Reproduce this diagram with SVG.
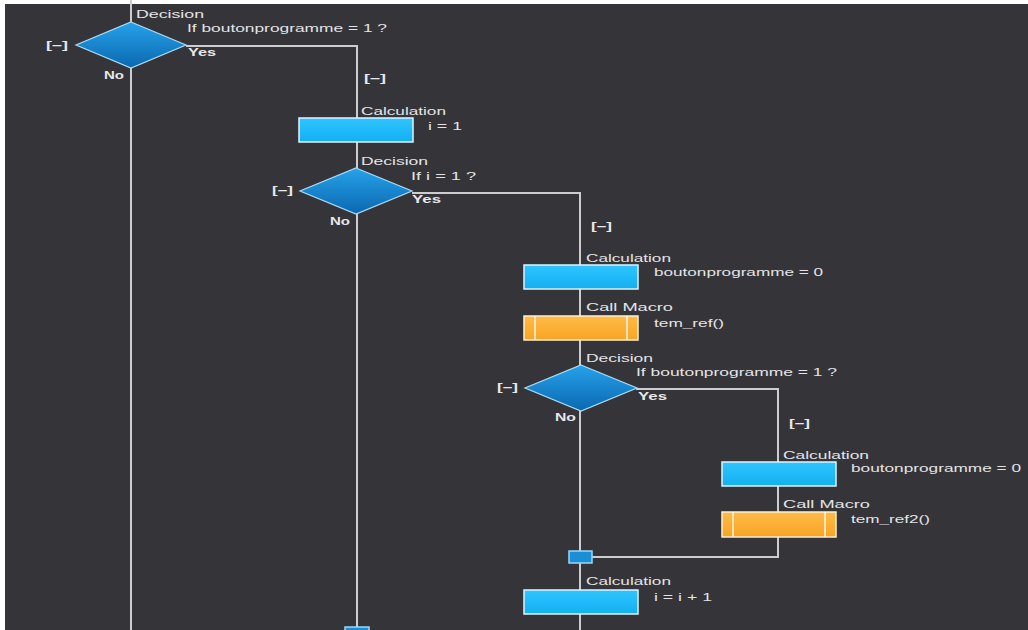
<svg xmlns="http://www.w3.org/2000/svg" width="1028" height="630" viewBox="0 0 1028 630">
<style>
.ln{stroke:#cdcdd0;stroke-width:2;fill:none}
.t{font-family:"Liberation Sans",Arial,sans-serif;font-size:11.5px;fill:#e4e4e6}
.b{font-family:"Liberation Sans",Arial,sans-serif;font-size:11.5px;font-weight:bold;fill:#e8e8ea}
.calc{fill:url(#gc);stroke:#dff3ff;stroke-width:1.5}
.mac{fill:url(#gm);stroke:#fff0d0;stroke-width:1.5}
.macl{stroke:#fff6e4;stroke-width:1.5}
.dia{fill:url(#gd);stroke:#a8dcf8;stroke-width:1.2}
.jn{fill:#1a8ed6;stroke:#9ad6f8;stroke-width:1.5}
</style>
<defs>
<linearGradient id="gc" x1="0" y1="0" x2="0" y2="1"><stop offset="0" stop-color="#2ec4ff"/><stop offset="1" stop-color="#14b0f2"/></linearGradient>
<linearGradient id="gm" x1="0" y1="0" x2="0" y2="1"><stop offset="0" stop-color="#ffbb48"/><stop offset="1" stop-color="#f8a424"/></linearGradient>
<linearGradient id="gd" x1="0" y1="0" x2="0" y2="1"><stop offset="0" stop-color="#26a2ea"/><stop offset="1" stop-color="#0a68b0"/></linearGradient>
</defs>
<rect width="1028" height="630" fill="#ffffff"/>
<rect x="5" y="4" width="1023" height="626" fill="#343439"/>

<g id="connectors">
<path class="ln" d="M131 0V22"/>
<path class="ln" d="M131 68V630"/>
<path class="ln" d="M186 46H357V118"/>
<path class="ln" d="M357 142V168"/>
<path class="ln" d="M357 214V630"/>
<path class="ln" d="M412 193H580V265"/>
<path class="ln" d="M580 289V316"/>
<path class="ln" d="M580 340V365"/>
<path class="ln" d="M580 411V551"/>
<path class="ln" d="M580 563V590"/>
<path class="ln" d="M580 614V630"/>
<path class="ln" d="M636 389H778V462"/>
<path class="ln" d="M778 486V512"/>
<path class="ln" d="M778 537V557H592"/>
</g>

<g id="decision1">
<polygon class="dia" points="131,22 186,45 131,68 76,45"/>
<text class="t" x="136" y="18" textLength="68" lengthAdjust="spacingAndGlyphs">Decision</text>
<text class="t" x="187" y="32" textLength="200" lengthAdjust="spacingAndGlyphs">If boutonprogramme = 1 ?</text>
<text class="b" x="46" y="49" textLength="22" lengthAdjust="spacingAndGlyphs">[–]</text>
<text class="b" x="188" y="56" textLength="28" lengthAdjust="spacingAndGlyphs">Yes</text>
<text class="b" x="104" y="79" textLength="20" lengthAdjust="spacingAndGlyphs">No</text>
</g>

<g id="collapse1">
<text class="b" x="364" y="82" textLength="22" lengthAdjust="spacingAndGlyphs">[–]</text>
</g>

<g id="calc1">
<rect class="calc" x="299" y="118" width="114" height="24"/>
<text class="t" x="361" y="115" textLength="85" lengthAdjust="spacingAndGlyphs">Calculation</text>
<text class="t" x="428" y="130" textLength="34" lengthAdjust="spacingAndGlyphs">i = 1</text>
</g>

<g id="decision2">
<polygon class="dia" points="356,168 412,191 356,214 300,191"/>
<text class="t" x="361" y="165" textLength="67" lengthAdjust="spacingAndGlyphs">Decision</text>
<text class="t" x="411" y="180" textLength="65" lengthAdjust="spacingAndGlyphs">If i = 1 ?</text>
<text class="b" x="272" y="194" textLength="21" lengthAdjust="spacingAndGlyphs">[–]</text>
<text class="b" x="412" y="203" textLength="29" lengthAdjust="spacingAndGlyphs">Yes</text>
<text class="b" x="330" y="225" textLength="20" lengthAdjust="spacingAndGlyphs">No</text>
</g>

<g id="collapse2">
<text class="b" x="591" y="230" textLength="21" lengthAdjust="spacingAndGlyphs">[–]</text>
</g>

<g id="calc2">
<rect class="calc" x="524" y="265" width="114" height="24"/>
<text class="t" x="586" y="262" textLength="85" lengthAdjust="spacingAndGlyphs">Calculation</text>
<text class="t" x="654" y="276" textLength="169" lengthAdjust="spacingAndGlyphs">boutonprogramme = 0</text>
</g>

<g id="macro1">
<rect class="mac" x="524" y="316" width="114" height="24"/>
<line class="macl" x1="535" y1="316" x2="535" y2="340"/>
<line class="macl" x1="627" y1="316" x2="627" y2="340"/>
<text class="t" x="586" y="311" textLength="87" lengthAdjust="spacingAndGlyphs">Call Macro</text>
<text class="t" x="654" y="327" textLength="70" lengthAdjust="spacingAndGlyphs">tem_ref()</text>
</g>

<g id="decision3">
<polygon class="dia" points="581,365 637,388 581,411 525,388"/>
<text class="t" x="586" y="362" textLength="67" lengthAdjust="spacingAndGlyphs">Decision</text>
<text class="t" x="636" y="376" textLength="201" lengthAdjust="spacingAndGlyphs">If boutonprogramme = 1 ?</text>
<text class="b" x="497" y="391" textLength="21" lengthAdjust="spacingAndGlyphs">[–]</text>
<text class="b" x="638" y="400" textLength="29" lengthAdjust="spacingAndGlyphs">Yes</text>
<text class="b" x="555" y="421" textLength="21" lengthAdjust="spacingAndGlyphs">No</text>
</g>

<g id="collapse3">
<text class="b" x="789" y="427" textLength="21" lengthAdjust="spacingAndGlyphs">[–]</text>
</g>

<g id="calc3">
<rect class="calc" x="722" y="462" width="114" height="24"/>
<text class="t" x="783" y="459" textLength="86" lengthAdjust="spacingAndGlyphs">Calculation</text>
<text class="t" x="851" y="472" textLength="170" lengthAdjust="spacingAndGlyphs">boutonprogramme = 0</text>
</g>

<g id="macro2">
<rect class="mac" x="722" y="512" width="114" height="25"/>
<line class="macl" x1="733" y1="512" x2="733" y2="537"/>
<line class="macl" x1="825" y1="512" x2="825" y2="537"/>
<text class="t" x="783" y="508" textLength="87" lengthAdjust="spacingAndGlyphs">Call Macro</text>
<text class="t" x="851" y="523" textLength="79" lengthAdjust="spacingAndGlyphs">tem_ref2()</text>
</g>

<g id="junction3">
<rect class="jn" x="569" y="551" width="23" height="12"/>
</g>

<g id="calc4">
<rect class="calc" x="524" y="590" width="114" height="24"/>
<text class="t" x="586" y="585" textLength="85" lengthAdjust="spacingAndGlyphs">Calculation</text>
<text class="t" x="654" y="601" textLength="58" lengthAdjust="spacingAndGlyphs">i = i + 1</text>
</g>

<g id="junction2">
<rect class="jn" x="345" y="627" width="24" height="12"/>
</g>
</svg>
